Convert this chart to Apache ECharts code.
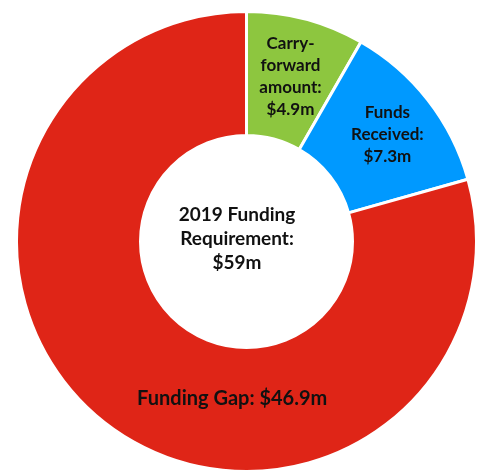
<!DOCTYPE html>
<html><head><meta charset="utf-8">
<script src="https://cdn.jsdelivr.net/npm/echarts@6/dist/echarts.min.js"></script>
<style>html,body{margin:0;padding:0;background:#fff}#c{width:483px;height:472px}</style>
</head><body><div id="c"></div>
<script>
const categories = ["Carry-\nforward\namount:", "Funds\nReceived:", "Funding Gap:"];
const values = [4.9, 7.3, 46.9];
const valueLabels = ["$4.9m", "$7.3m", "$46.9m"];
const colors = ["#8DC63F", "#0099FF", "#DF2517"];
const centerText = "2019 Funding\nRequirement:\n$59m";

const FONT = "Lato";
const chart = echarts.init(document.getElementById('c'));
const data = categories.map((c, i) => {
  const item = { name: c, value: values[i], itemStyle: { color: colors[i] } };
  if (i === 2) {
    item.label = { formatter: c + ' ' + valueLabels[i], offset: [89, 21], fontSize: 20 };
  } else if (i === 1) {
    item.label = { formatter: c + '\n' + valueLabels[i], offset: [6, -2] };
  } else {
    item.label = { formatter: c + '\n' + valueLabels[i] };
  }
  return item;
});
chart.setOption({
  animation: false,
  series: [{
    type: 'pie',
    center: [246.5, 241.5],
    radius: [106, 230],
    startAngle: 90,
    clockwise: true,
    avoidLabelOverlap: false,
    itemStyle: { borderColor: '#fff', borderWidth: 3 },
    label: {
      show: true, position: 'inside',
      color: '#111', fontFamily: FONT, fontWeight: 'bold', fontSize: 17, lineHeight: 22,
      align: 'center'
    },
    labelLine: { show: false },
    emphasis: { disabled: true },
    data: data
  }],
  graphic: [{
    type: 'text', x: 237, y: 239,
    style: { text: centerText, fill: '#111', font: 'bold 19px ' + FONT, lineHeight: 24,
      align: 'center', verticalAlign: 'middle' }
  }]
});
</script></body></html>
